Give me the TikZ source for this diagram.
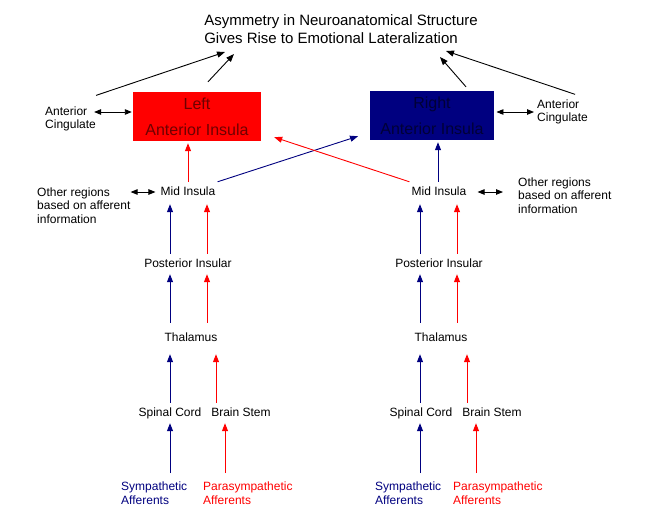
\documentclass[tikz,border=0pt]{standalone}
\usepackage{fontspec}
\setmainfont{Liberation Sans}
\usetikzlibrary{arrows.meta}
\definecolor{navy}{RGB}{0,0,128}
\definecolor{myred}{RGB}{255,0,0}
\definecolor{dred}{RGB}{110,0,0}
\definecolor{dnavy}{RGB}{0,0,55}
\begin{document}
\begin{tikzpicture}[x=1pt,y=-1pt,
  lab/.style={font=\fontsize{12}{14}\selectfont, inner xsep=2pt, inner ysep=4pt, text height=9pt, text depth=3pt},
  multi/.style={font=\fontsize{12}{13.7}\selectfont, align=left, inner sep=0pt},
  boxst/.style={minimum height=49pt, inner sep=0pt, align=center, font=\fontsize{16}{26}\selectfont},
  up/.style={-{Triangle[length=8pt,width=6pt]}, line width=0.9pt},
  bi/.style={{Triangle[length=7pt,width=5.5pt]}-{Triangle[length=7pt,width=5.5pt]}, line width=0.9pt},
]
\useasboundingbox (0,0) rectangle (672,512);
\fill[white] (0,0) rectangle (672,512);

% title
\node[font=\fontsize{15}{18}\selectfont, align=left, inner sep=0pt] (title) at (341,29)
  {Asymmetry in Neuroanatomical Structure\\Gives Rise to Emotional Lateralization};

% boxes
\node[boxst, minimum width=128pt, fill=myred, text=dred] (lbox) at (197,116.5) {Left\\Anterior Insula};
\node[boxst, minimum width=124.5pt, fill=navy, text=dnavy] (rbox) at (432,115.5) {Right\\Anterior Insula};

% anterior cingulate
\node[multi, anchor=west] (lac) at (45,119) {Anterior\\Cingulate};
\node[multi, anchor=west] (rac) at (537,112) {Anterior\\Cingulate};

% mid insula
\node[lab] (lmid) at (188,192) {Mid Insula};
\node[lab] (rmid) at (439,192) {Mid Insula};
\node[multi, anchor=west] (lother) at (37,205.5) {Other regions\\based on afferent\\information};
\node[multi, anchor=west] (rother) at (518,195.5) {Other regions\\based on afferent\\information};

% posterior, thalamus
\node[lab] (lpost) at (188,264) {Posterior Insular};
\node[lab] (rpost) at (439,264) {Posterior Insular};
\node[lab] (lthal) at (191,338) {Thalamus};
\node[lab] (rthal) at (441,338) {Thalamus};

% spinal cord / brain stem
\node[lab] (lspin) at (170,413) {Spinal Cord};
\node[lab] (lbrain) at (241,413) {Brain Stem};
\node[lab] (rspin) at (421,413) {Spinal Cord};
\node[lab] (rbrain) at (492,413) {Brain Stem};

% afferents
\node[multi, anchor=west, text=navy] (lsym) at (121,493.5) {Sympathetic\\Afferents};
\node[multi, anchor=west, text=myred] (lpar) at (203,493.5) {Parasympathetic\\Afferents};
\node[multi, anchor=west, text=navy] (rsym) at (375,493.5) {Sympathetic\\Afferents};
\node[multi, anchor=west, text=myred] (rpar) at (453,493.5) {Parasympathetic\\Afferents};

% column coordinates
\coordinate (cLb) at (170,0);
\coordinate (cLr) at (207,0);
\coordinate (cLr2) at (216,0);
\coordinate (cLr3) at (225,0);
\coordinate (cRb) at (420,0);
\coordinate (cRr) at (457,0);
\coordinate (cRr2) at (467,0);
\coordinate (cRr3) at (476,0);
\coordinate (acl) at (0,112);
\coordinate (acr) at (0,112);

% title arrows
\coordinate (tA) at (225,52);
\coordinate (tB) at (234,54);
\coordinate (tC) at (440,57);
\coordinate (tD) at (446,51);
\draw[up] ([shift={(0,-11)}]lac.north east) -- (tA);
\draw[up] ([shift={(11,-10)}]lbox.north) -- (tB);
\draw[up] ([shift={(34,-4)}]rbox.north) -- (tC);
\draw[up] ([shift={(-13,-5)}]rac.north east) -- (tD);

% cingulate double arrows
\draw[bi, shorten <=-2pt, shorten >=1pt] (lac.east |- acl) -- (lbox.west |- acl);
\draw[bi, shorten <=2pt, shorten >=3pt] (rbox.east |- acr) -- (rac.west |- acr);

% other regions double arrows
\draw[bi, shorten >=3pt] (lother.east |- lmid.west) -- (lmid.west);
\draw[bi, shorten <=9pt, shorten >=15pt] (rmid.east) -- (rother.west |- rmid.east);

% mid insula to boxes
\draw[up, myred, shorten >=2pt] (lmid.north) -- (lmid.north |- lbox.south);
\draw[up, navy, shorten >=2pt] ([xshift=-1pt]rmid.north) -- ([xshift=-1pt]rmid.north |- rbox.south);
\draw[up, navy] (lmid.north east) -- ([shift={(-11.5,-4)}]rbox.south west);
\draw[up, myred] (rmid.north west) -- ([shift={(13,-4)}]lbox.south east);

% posterior to mid
\draw[up, navy, shorten >=2pt] (lpost.north -| cLb) -- (lmid.south -| cLb);
\draw[up, myred, shorten >=2pt] (lpost.north -| cLr) -- (lmid.south -| cLr);
\draw[up, navy, shorten >=2pt] (rpost.north -| cRb) -- (rmid.south -| cRb);
\draw[up, myred, shorten >=2pt] (rpost.north -| cRr) -- (rmid.south -| cRr);

% thalamus to posterior
\draw[up, navy, shorten <=5pt] (lthal.north -| cLb) -- (lpost.south -| cLb);
\draw[up, myred, shorten <=5pt] (lthal.north -| cLr) -- (lpost.south -| cLr);
\draw[up, navy, shorten <=5pt] (rthal.north -| cRb) -- (rpost.south -| cRb);
\draw[up, myred, shorten <=5pt] (rthal.north -| cRr) -- (rpost.south -| cRr);

% spinal/brain to thalamus
\draw[up, navy, shorten >=6pt] (lspin.north -| cLb) -- (lthal.south -| cLb);
\draw[up, myred, shorten >=6pt] (lbrain.north -| cLr2) -- (lthal.south -| cLr2);
\draw[up, navy, shorten >=6pt] (rspin.north -| cRb) -- (rthal.south -| cRb);
\draw[up, myred, shorten >=6pt] (rbrain.north -| cRr2) -- (rthal.south -| cRr2);

% afferents to spinal/brain
\draw[up, navy, shorten <=9pt] (lsym.north -| cLb) -- (lspin.south -| cLb);
\draw[up, myred, shorten <=9pt] (lpar.north -| cLr3) -- (lbrain.south -| cLr3);
\draw[up, navy, shorten <=9pt] (rsym.north -| cRb) -- (rspin.south -| cRb);
\draw[up, myred, shorten <=9pt] (rpar.north -| cRr3) -- (rbrain.south -| cRr3);
\end{tikzpicture}
\end{document}
